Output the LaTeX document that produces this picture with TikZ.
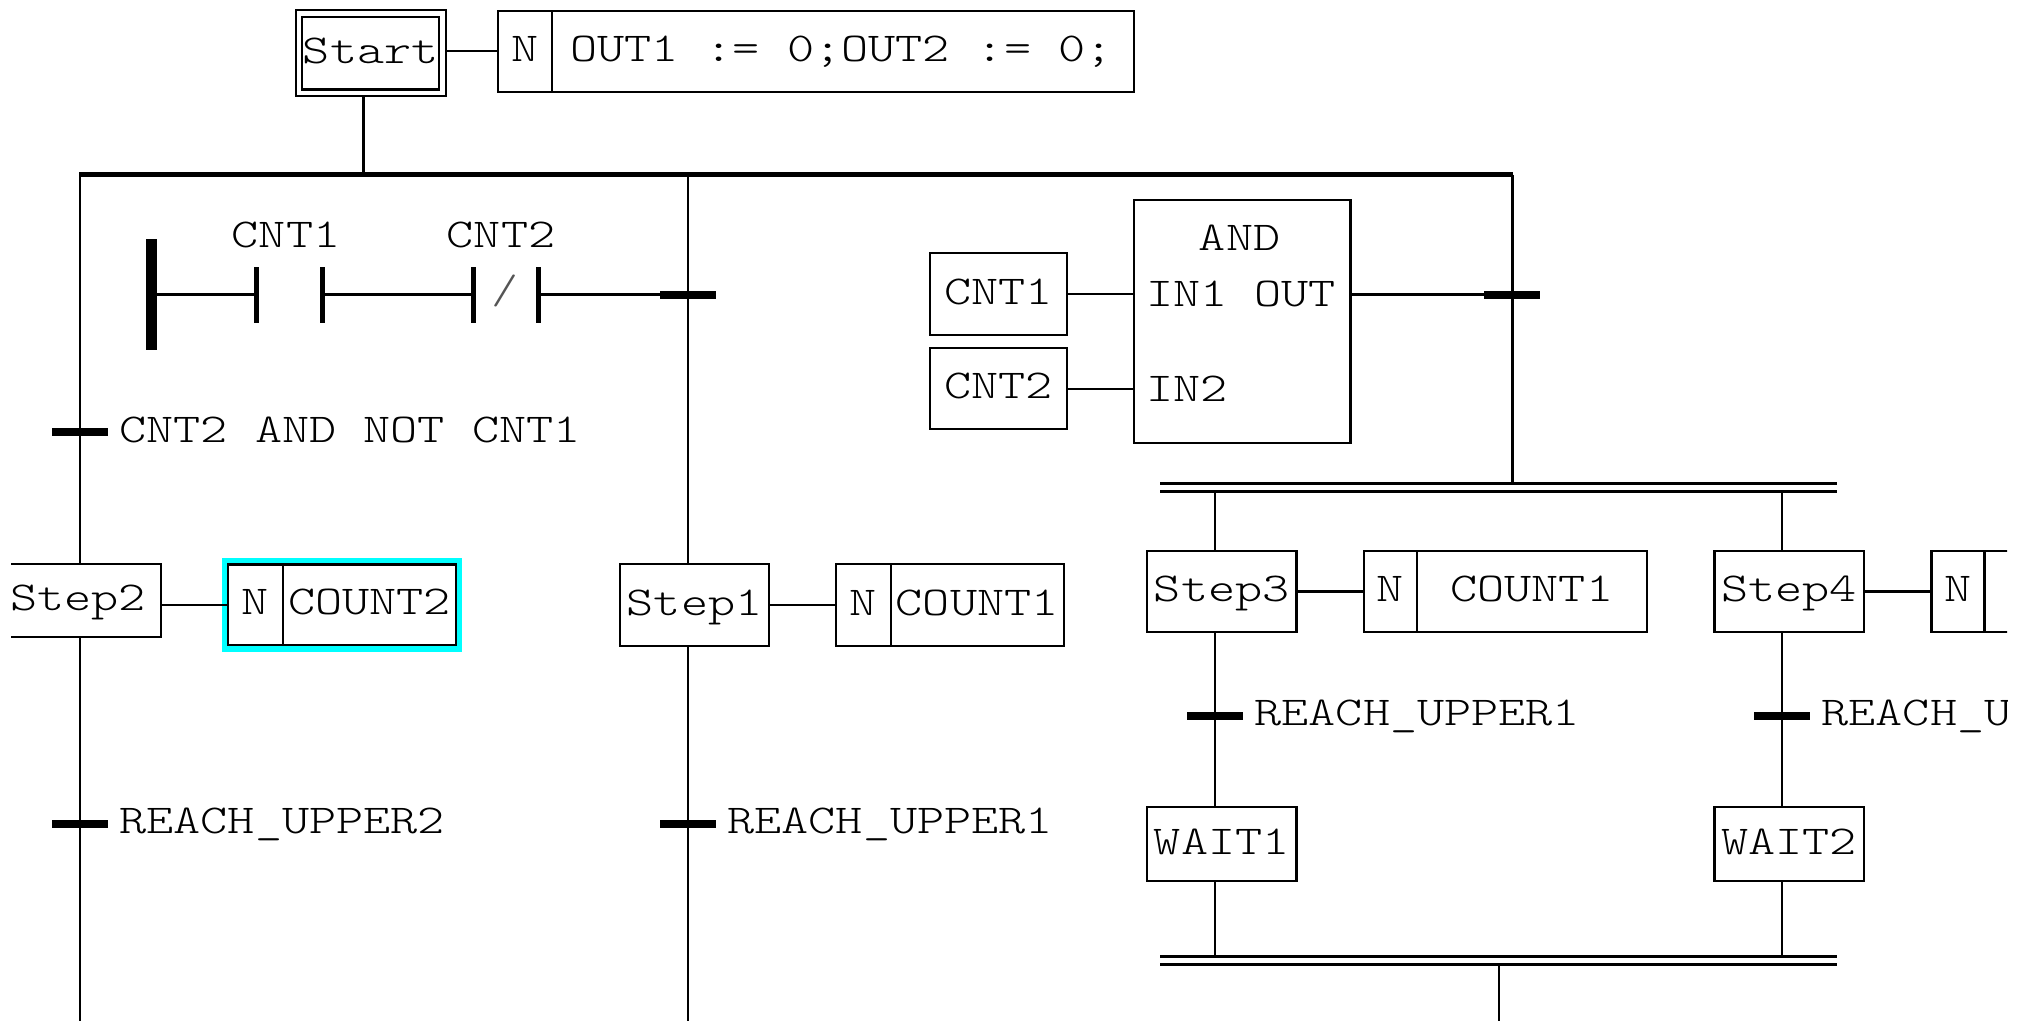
\documentclass[tikz,border=0pt]{standalone}
\usepackage{fontspec}
\setmonofont[FakeStretch=1.26]{Latin Modern Mono Light}
\usetikzlibrary{positioning}
\definecolor{sfcInk}{HTML}{000000}
\definecolor{sfcCyan}{HTML}{00FFFF}
\definecolor{sfcSlash}{HTML}{555555}
\tikzset{
  sfcWire/.style={line width=2.3pt, draw=sfcInk},
  sfcBox/.style={
    draw=sfcInk,
    fill=white,
    line width=2.3pt,
    inner sep=0pt,
    outer sep=0pt,
    text height=26pt,
    text depth=6pt
  },
  sfcInit/.style={
    sfcBox,
    double,
    double distance=4.2pt,
    outer sep=3.25pt
  },
  sfcLabel/.style={inner sep=0pt, outer sep=0pt, text height=26pt, text depth=6pt},
  sfcTrans/.style={fill=sfcInk, inner sep=0pt, outer sep=0pt, minimum width=56pt, minimum height=8pt},
  sfcBar/.style={fill=sfcInk, inner sep=0pt, outer sep=0pt, minimum width=677pt, minimum height=2.6pt},
  sfcContact/.style={fill=sfcInk, inner sep=0pt, outer sep=0pt, minimum width=5pt, minimum height=56pt}
}

\begin{document}
\begin{tikzpicture}[x=1pt, y=-1pt, font=\ttfamily\fontsize{41}{41}\selectfont]
  \path[fill=white, use as bounding box] (0,0) rectangle (2020,1021);
  \clip (11,0) rectangle (2007,1021);

  \foreach \name/\x in {colStart/363.5,colStep2/80,colStep1/688,colGate/1512.4,colStep3/1215,colStep4/1782,colOut/1498.8}
    \coordinate (\name) at (\x,1021);

  \node[sfcInit, minimum width=143.5pt, minimum height=79.2pt] (start) at (370.7,53) {Start};
  \node[sfcBox, minimum width=54pt, minimum height=80.7pt] (startQual) at (525.3,51.3) {N};
  \node[sfcBox, minimum width=581.7pt, minimum height=80.7pt, right=0pt of startQual] (startAct) {\makebox[546pt][l]{OUT1 := 0;OUT2 := 0;}};

  \node[fill=sfcInk, inner sep=0pt, outer sep=0pt, minimum width=1434pt, minimum height=5pt] (divBar) at (796,174.5) {};

  \node[fill=sfcInk, inner sep=0pt, outer sep=0pt, minimum width=10.7pt, minimum height=111pt] (rail) at (151.3,294.5) {};
  \node[sfcContact] (cntOneA) at (256.7,294.5) {};
  \node[sfcContact] (cntOneB) at (322,294.5) {};
  \node[sfcContact] (cntTwoA) at (473,294.5) {};
  \node[sfcContact] (cntTwoB) at (538,294.5) {};
  \node[sfcLabel] (cntOneName) at (286,237.5) {CNT1};
  \node[sfcLabel] (cntTwoName) at (501,237.5) {CNT2};
  \node[inner sep=0pt, text=sfcSlash] (cntTwoNeg) at (505.5,291) {/};

  \node[sfcBox, minimum width=136.4pt, minimum height=82pt] (fbdOne) at (998.5,294.3) {CNT1};
  \node[sfcBox, minimum width=136.4pt, minimum height=81pt] (fbdTwo) at (998.5,388.8) {CNT2};
  \node[draw=sfcInk, line width=2.3pt, fill=white, inner sep=0pt, outer sep=0pt, minimum width=216.7pt, minimum height=243.3pt] (fbdAnd) at (1242,321.6) {};
  \node[sfcLabel] (fbdName) at (1239.6,240.8) {AND};
  \node[sfcLabel, anchor=west] (fbdInOne) at (1146,296.5) {IN1};
  \node[sfcLabel, anchor=west] (fbdInTwo) at (1146,391.5) {IN2};
  \node[sfcLabel, anchor=east] (fbdOut) at (1336,296.5) {OUT};

  \node[sfcTrans] (transLeft) at (80,432.3) {};
  \node[sfcLabel, right=11.5pt of transLeft] (transLeftName) {CNT2 AND NOT CNT1};
  \node[sfcTrans] (transMid) at (688,294.5) {};
  \node[sfcTrans] (transGate) at (1512,294.5) {};

  \node[fill=sfcCyan, inner sep=0pt, outer sep=0pt, minimum width=240pt, minimum height=94pt] (selFrame) at (342.3,605) {};
  \node[sfcBox, minimum width=166pt, minimum height=73pt] (step2) at (78,600.5) {Step2};
  \node[sfcBox, minimum width=55pt, minimum height=80.7pt] (qual2) at (255.5,604.8) {N};
  \node[sfcBox, minimum width=173pt, minimum height=80.7pt, right=0pt of qual2] (act2) {COUNT2};

  \node[sfcBox, minimum width=149.3pt, minimum height=81.4pt] (step1) at (694.6,605) {Step1};
  \node[sfcBox, minimum width=54.7pt, minimum height=81.4pt, right=66.7pt of step1] (qual1) {N};
  \node[sfcBox, minimum width=173pt, minimum height=81.4pt, right=0pt of qual1] (act1) {COUNT1};

  \node[sfcBar] (parTopA) at (1498.4,483.3) {};
  \node[sfcBar] (parTopB) at (1498.4,491.7) {};
  \node[sfcBar] (parEndA) at (1498.4,956.2) {};
  \node[sfcBar] (parEndB) at (1498.4,964.6) {};

  \node[sfcBox, minimum width=149.5pt, minimum height=81pt] (step3) at (1221.7,591.5) {Step3};
  \node[sfcBox, minimum width=53pt, minimum height=81pt, right=67.4pt of step3] (qual3) {N};
  \node[sfcBox, minimum width=230pt, minimum height=81pt, right=0pt of qual3] (act3) {COUNT1};
  \node[sfcBox, minimum width=149.5pt, minimum height=81pt] (step4) at (1789.2,591.5) {Step4};
  \node[sfcBox, minimum width=53pt, minimum height=81pt, right=67.4pt of step4] (qual4) {N};
  \node[draw=sfcInk, line width=2.3pt, fill=white, outer sep=0pt, minimum width=120pt, minimum height=81pt, right=0pt of qual4] (act4) {};
  \node[sfcBox, minimum width=149.5pt, minimum height=73.6pt] (wait1) at (1221.7,844) {WAIT1};
  \node[sfcBox, minimum width=149.5pt, minimum height=73.6pt] (wait2) at (1789.2,844) {WAIT2};

  \node[sfcTrans] (transTwo) at (80,823.7) {};
  \node[sfcLabel, right=11.5pt of transTwo] (transTwoName) {REACH\_UPPER2};
  \node[sfcTrans] (transOne) at (688,823.7) {};
  \node[sfcLabel, right=11.5pt of transOne] (transOneName) {REACH\_UPPER1};
  \node[sfcTrans] (transThree) at (1215,715.8) {};
  \node[sfcLabel, right=11.5pt of transThree] (transThreeName) {REACH\_UPPER1};
  \node[sfcTrans] (transFour) at (1782,715.8) {};
  \node[sfcLabel, right=11.5pt of transFour] (transFourName) {REACH\_U};

  \foreach \a/\b in {rail/cntOneA,cntOneB/cntTwoA,cntTwoB/transMid}
    \draw[sfcWire] (\a) -- (\b);
  \foreach \a/\b in {fbdOne/fbdAnd,fbdTwo/fbdAnd}
    \draw[sfcWire] (\a.east) -- (\a.east -| \b.west);
  \draw[sfcWire] (fbdAnd.east |- transGate) -- (transGate);
  \foreach \a/\b in {start/startQual,step2/qual2,step1/qual1,step3/qual3,step4/qual4}
    \draw[sfcWire] (\a.east |- \b.west) -- (\b.west);

  \foreach \col/\stp in {colStep2/step2,colStep1/step1}
    \draw[sfcWire] (divBar -| \col) -- (\stp.north -| \col) (\stp.south -| \col) -- (\col);
  \foreach \col/\stp/\wt in {colStep3/step3/wait1,colStep4/step4/wait2}
    \draw[sfcWire] (parTopB -| \col) -- (\stp.north -| \col) (\stp.south -| \col) -- (\wt.north -| \col) (\wt.south -| \col) -- (parEndA -| \col);
  \draw[sfcWire] (start.south -| colStart) -- (divBar -| colStart);
  \draw[sfcWire] (divBar -| colGate) -- (parTopA -| colGate);
  \draw[sfcWire] (parEndB -| colOut) -- (colOut);
\end{tikzpicture}
\end{document}
